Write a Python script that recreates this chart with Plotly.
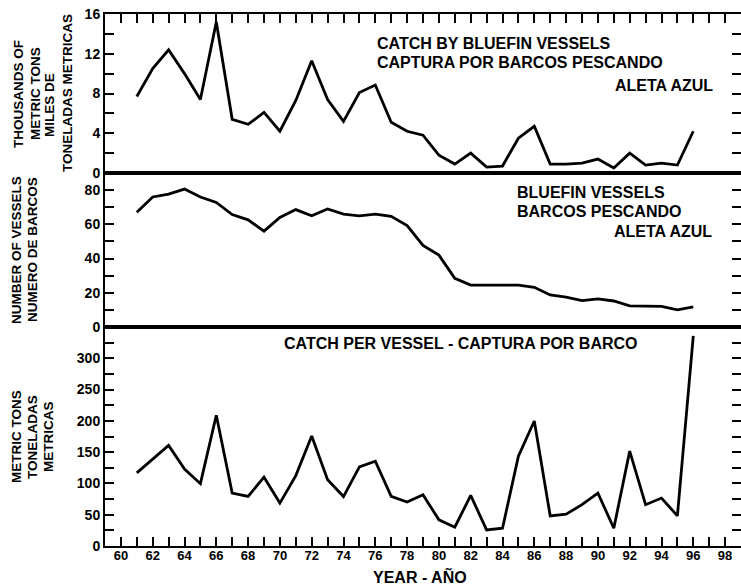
import plotly.graph_objects as go
from plotly.subplots import make_subplots

years = list(range(1961, 1997))
year_axis = [y - 1900 for y in years]

catch_thousand_t = [7.7, 10.5, 12.4, 10.0, 7.4, 15.2, 5.4, 4.9, 6.1, 4.2, 7.3, 11.3,
                    7.4, 5.2, 8.1, 8.85, 5.1, 4.2, 3.8, 1.8, 0.9, 2.0, 0.6, 0.7,
                    3.5, 4.7, 0.9, 0.9, 1.0, 1.4, 0.5, 2.0, 0.8, 1.0, 0.8, 4.2]
vessels = [67, 76, 77.7, 80.6, 76, 72.8, 65.7, 62.6, 56, 64, 68.6, 65,
           69, 66, 65, 66, 64.7, 59.3, 47.7, 42, 28.4, 24.5, 24.5, 24.5,
           24.5, 23.2, 18.7, 17.4, 15.4, 16.4, 15.2, 12.3, 12.3, 12, 10, 11.8]
catch_per_vessel = [116.8, 139, 160.7, 123, 99.6, 209, 84.6, 79.3, 110, 68.6, 112.5, 175.7,
                    106, 79, 126.4, 135.5, 79.3, 70.2, 82, 41.8, 30, 80.8, 25.7, 28.4,
                    143.5, 199.8, 48.2, 51, 66, 84.6, 28.4, 151.6, 66, 76.6, 48.2, 336]

x_tick_vals = list(range(60, 100, 2))
x_tick_text = [str(v) for v in x_tick_vals]
top_ticks = [0, 4, 8, 12, 16]
mid_ticks = [0, 20, 40, 60, 80]
bot_ticks = [0, 50, 100, 150, 200, 250, 300]

W, H = 741, 586
L, R, T, B = 105, 0, 14, 40
PW, PH = W - L - R, H - T - B

def px(x):
    return (x - L) / PW

def py(y):
    return (H - B - y) / PH

fig = make_subplots(rows=3, cols=1, shared_xaxes=True, vertical_spacing=0)

line = dict(color="black", width=2.8)
fig.add_trace(go.Scatter(x=year_axis, y=catch_thousand_t, mode="lines", line=line), row=1, col=1)
fig.add_trace(go.Scatter(x=year_axis, y=vessels, mode="lines", line=line), row=2, col=1)
fig.add_trace(go.Scatter(x=year_axis, y=catch_per_vessel, mode="lines", line=line), row=3, col=1)

FONT = "Liberation Sans, Arial, sans-serif"
tickfont = dict(family=FONT, size=14, color="black", weight="bold")

d_bot = [0, 219 / PH]
d_mid = [219 / PH, (219 + 154) / PH]
d_top = [(219 + 154) / PH, 1]

common_x = dict(range=[59, 99], showline=True, linecolor="black", linewidth=2,
                mirror=True, showgrid=False, zeroline=False, automargin=False)
fig.update_layout(
    xaxis=dict(**common_x, side="top", ticks="inside", ticklen=9, tickwidth=1.5,
               tickcolor="black", tickmode="array", tickvals=x_tick_vals,
               showticklabels=False,
               minor=dict(ticks="inside", ticklen=9, tickwidth=1.5, tickcolor="black",
                          dtick=1, tick0=59)),
    xaxis2=dict(**common_x, ticks="", showticklabels=False),
    xaxis3=dict(**common_x, side="bottom", ticks="inside", ticklen=9, tickwidth=1.5,
                tickcolor="black", tickmode="array", tickvals=x_tick_vals,
                ticktext=x_tick_text, showticklabels=True, ticklabelstandoff=-4,
                tickfont=dict(family=FONT, size=13, color="black", weight="bold"),
                minor=dict(ticks="inside", ticklen=9, tickwidth=1.5, tickcolor="black",
                           dtick=1, tick0=59)),
)

common_y = dict(showline=True, linecolor="black", linewidth=2, mirror="ticks",
                showgrid=False, zeroline=False, ticks="inside", ticklen=9,
                tickwidth=1.5, tickcolor="black", tickfont=tickfont,
                tickmode="array", ticklabelstandoff=0, automargin=False)
fig.update_layout(
    yaxis=dict(**common_y, domain=d_top, range=[0, 16], tickvals=top_ticks,
               minor=dict(ticks="inside", ticklen=9, tickwidth=1.5, tickcolor="black",
                          dtick=2, tick0=0)),
    yaxis2=dict(**common_y, domain=d_mid, range=[0, 90], tickvals=mid_ticks,
                minor=dict(ticks="inside", ticklen=9, tickwidth=1.5, tickcolor="black",
                           dtick=10, tick0=0)),
    yaxis3=dict(**common_y, domain=d_bot, range=[0, 350], tickvals=bot_ticks,
                minor=dict(ticks="inside", ticklen=9, tickwidth=1.5, tickcolor="black",
                           dtick=25, tick0=0)),
)

ann = []
def add_text(text, x, y, size, xanchor="left", angle=0):
    ann.append(dict(text=text, x=px(x), y=py(y), xref="paper", yref="paper",
                    xanchor=xanchor, yanchor="middle", showarrow=False,
                    textangle=angle,
                    font=dict(family=FONT, size=size, color="black", weight="bold")))

# in-panel labels
add_text("CATCH BY BLUEFIN VESSELS", 375, 43, 16)
add_text("CAPTURA POR BARCOS PESCANDO", 375, 63, 16)
add_text("ALETA AZUL", 715, 85, 16, xanchor="right")
add_text("BLUEFIN VESSELS", 515, 192, 16)
add_text("BARCOS PESCANDO", 515, 211, 16)
add_text("ALETA AZUL", 714, 231, 16, xanchor="right")
add_text("CATCH PER VESSEL - CAPTURA POR BARCO", 282, 343, 16)

# y-axis titles
add_text("THOUSANDS OF", 18, 94, 13.5, xanchor="center", angle=-90)
add_text("METRIC TONS", 35, 94, 13.5, xanchor="center", angle=-90)
add_text("MILES DE", 50, 105, 13.5, xanchor="center", angle=-90)
add_text("TONELADAS METRICAS", 67, 93, 13.5, xanchor="center", angle=-90)
add_text("NUMBER OF VESSELS", 16, 250, 13.5, xanchor="center", angle=-90)
add_text("NUMERO DE BARCOS", 32, 250, 13.5, xanchor="center", angle=-90)
add_text("METRIC TONS", 16, 437, 13.5, xanchor="center", angle=-90)
add_text("TONELADAS", 32, 437, 13.5, xanchor="center", angle=-90)
add_text("METRICAS", 48, 437, 13.5, xanchor="center", angle=-90)

# x-axis title
add_text("YEAR - AÑO", 420, 576, 16, xanchor="center")

fig.update_layout(
    annotations=ann,
    width=W, height=H,
    margin=dict(l=L, r=R, t=T, b=B, pad=0, autoexpand=False),
    paper_bgcolor="white", plot_bgcolor="white",
    showlegend=False,
    font=dict(family=FONT, color="black"),
)

fig.write_html("out.html",
               config={"displayModeBar": False},
               post_script="document.body.style.margin='0';document.body.style.overflow='hidden';")
